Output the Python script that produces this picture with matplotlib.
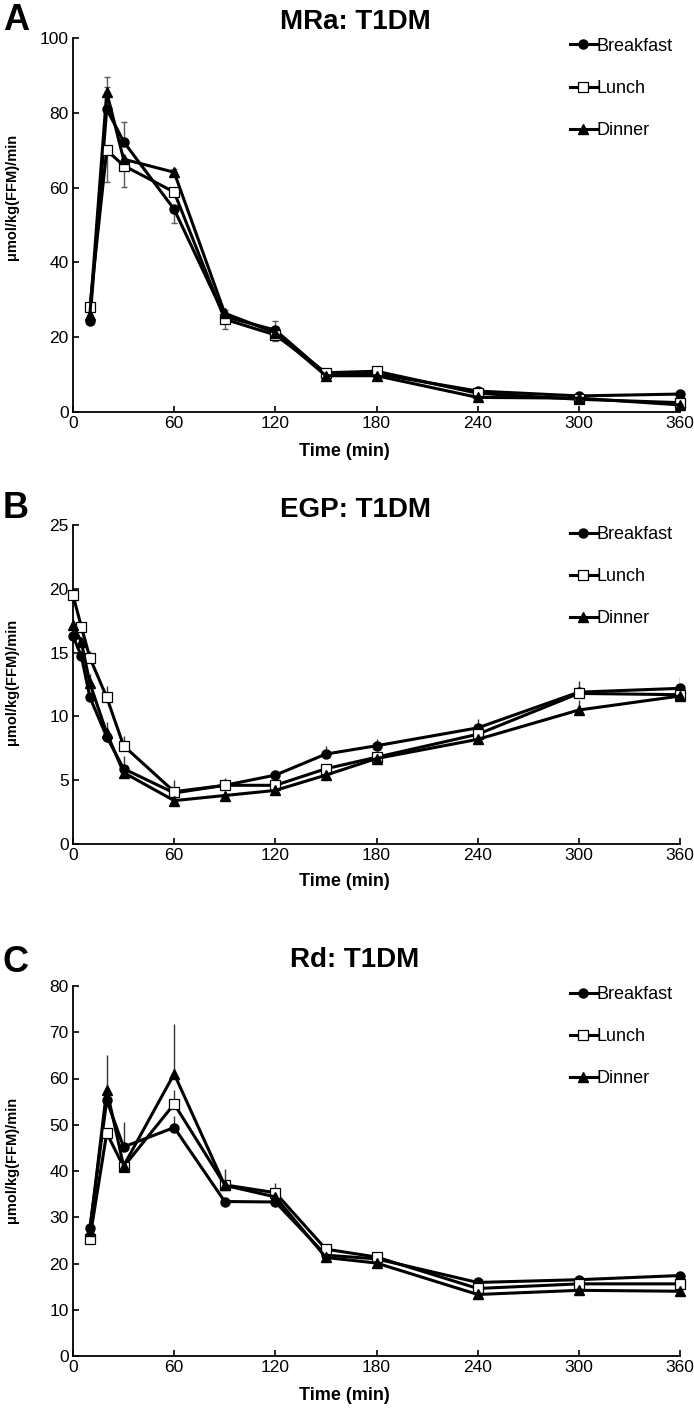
import numpy as np
import matplotlib
matplotlib.use("Agg")
import matplotlib.pyplot as plt

# ---- data ----
series_names = ["Breakfast", "Lunch", "Dinner"]

# Panel A: MRa
t_a = [10, 20, 30, 60, 90, 120, 150, 180, 240, 300, 360]
mra_breakfast = [24.2, 81.0, 72.3, 54.2, 25.5, 21.9, 10.2, 10.2, 5.6, 4.3, 4.8]
mra_lunch = [28.2, 70.0, 65.9, 58.8, 24.8, 20.6, 10.5, 10.9, 5.0, 3.4, 2.5]
mra_dinner = [26.0, 85.5, 67.6, 64.1, 26.4, 21.2, 9.7, 9.7, 3.9, 3.7, 1.9]
mra_breakfast_up = [0, 5.8, 5.2, 0, 0, 2.5, 0, 0, 0, 0, 0]
mra_breakfast_dn = [0, 0, 0, 3.7, 0, 0, 0, 0, 0, 0, 0]
mra_lunch_up = [0, 0, 0, 0, 0, 0, 0, 0, 0, 0, 0]
mra_lunch_dn = [0, 8.6, 5.7, 0, 2.6, 1.5, 0, 0, 0, 0, 0]
mra_dinner_up = [0, 4.1, 0, 1.0, 1.0, 0, 0, 0, 0, 0, 0]
mra_dinner_dn = [0, 0, 0, 0, 0, 0, 0, 0, 0, 0, 0]

# Panel B: EGP
t_b = [0, 5, 10, 20, 30, 60, 90, 120, 150, 180, 240, 300, 360]
egp_breakfast = [16.3, 14.7, 11.5, 8.4, 5.9, 4.0, 4.6, 5.4, 7.05, 7.7, 9.1, 11.9, 12.2]
egp_lunch = [19.5, 17.0, 14.6, 11.5, 7.7, 4.1, 4.6, 4.6, 5.9, 6.8, 8.6, 11.8, 11.7]
egp_dinner = [17.2, 15.8, 12.6, 8.7, 5.6, 3.4, 3.8, 4.2, 5.4, 6.7, 8.2, 10.5, 11.6]
egp_breakfast_up = [0, 0, 0, 1.2, 0, 0, 0, 0.3, 0.6, 0.5, 0.7, 0, 0.9]
egp_lunch_up = [0, 0.4, 0.5, 0.9, 0.8, 0.9, 0.6, 0, 0, 0.3, 0, 1.0, 0]
egp_dinner_up = [0, 0, 0.7, 0, 1.3, 0, 0, 0, 0, 0, 0, 0.8, 0]

# Panel C: Rd
t_c = [10, 20, 30, 60, 90, 120, 150, 180, 240, 300, 360]
rd_breakfast = [27.7, 55.3, 45.2, 49.4, 33.4, 33.3, 21.8, 21.0, 15.9, 16.5, 17.4]
rd_lunch = [25.4, 48.2, 40.9, 54.5, 37.0, 35.3, 23.1, 21.4, 14.6, 15.6, 15.6]
rd_dinner = [27.0, 57.6, 41.1, 61.0, 36.9, 34.4, 21.3, 20.1, 13.3, 14.2, 14.0]
rd_breakfast_up = [0, 0, 5.4, 2.4, 0, 0, 0, 0, 0, 0, 0]
rd_lunch_up = [0, 0, 0, 3.1, 0, 2.1, 0, 0.8, 0, 0, 0]
rd_dinner_up = [0, 7.4, 0, 10.8, 3.5, 0, 0, 0, 0, 0, 0]

plt.rcParams['font.family'] = ['Liberation Sans', 'DejaVu Sans']

W, H = 694, 1425
fig = plt.figure(figsize=(W / 100, H / 100), dpi=100)

styles = [
    dict(marker='o', mfc='black', mec='black', ms=6.5),
    dict(marker='s', mfc='white', mec='black', ms=7, mew=0.9),
    dict(marker='^', mfc='black', mec='black', ms=7),
]


def make_axes(top, bottom, left=73, right=680):
    return fig.add_axes([left / W, 1 - bottom / H, (right - left) / W, (bottom - top) / H])


def style_axes(ax, ymax, ystep):
    ax.set_xlim(0, 360)
    ax.set_ylim(0, ymax)
    ax.set_xticks(np.arange(0, 361, 60))
    ax.set_yticks(np.arange(0, ymax + 0.1, ystep))
    for s in ['top', 'right']:
        ax.spines[s].set_visible(False)
    for s in ['left', 'bottom']:
        ax.spines[s].set_linewidth(1.3)
    ax.tick_params(direction='in', length=4, width=1.2, labelsize=12.5, pad=3)
    ax.patch.set_alpha(0)


def panel(ax, t, ys, ups, dns, capsize, ecolor):
    for y, up, dn in zip(ys, ups, dns):
        ax.errorbar(t, y, yerr=[dn, up], fmt='none', ecolor=ecolor, elinewidth=1.0,
                    capsize=capsize, capthick=1.0, zorder=1)
    for y, st, name in zip(ys, styles, series_names):
        ax.plot(t, y, color='black', lw=2.2, label=name, zorder=3, clip_on=False, **st)
    ax.legend(loc='upper right', frameon=False, fontsize=13, handlelength=1.5,
              handletextpad=0.0, labelspacing=1.4, borderaxespad=0.0,
              bbox_to_anchor=(1.0, 1.02))


def labels(letter, title, top_y, title_y, ylab_y, xlab_y):
    fig.text(16 / W, 1 - top_y / H, letter, fontsize=26, fontweight='bold',
             ha='center', va='center')
    fig.text(355 / W, 1 - title_y / H, title, fontsize=20, fontweight='bold',
             ha='center', va='center')
    fig.text(12 / W, 1 - ylab_y / H, 'μmol/kg(FFM)/min', fontsize=10.5, fontweight='bold',
             rotation=90, ha='center', va='center')
    fig.text(344 / W, 1 - xlab_y / H, 'Time (min)', fontsize=13, fontweight='bold',
             ha='center', va='center')


zeros_b = [0] * len(t_b)
zeros_c = [0] * len(t_c)

# Panel A
ax1 = make_axes(38, 412)
style_axes(ax1, 100, 20)
panel(ax1, t_a, [mra_breakfast, mra_lunch, mra_dinner],
      [mra_breakfast_up, mra_lunch_up, mra_dinner_up],
      [mra_breakfast_dn, mra_lunch_dn, mra_dinner_dn], 2.5, '0.35')
labels('A', 'MRa: T1DM', 20, 22, 197, 452)

# Panel B
ax2 = make_axes(525, 844)
style_axes(ax2, 25, 5)
panel(ax2, t_b, [egp_breakfast, egp_lunch, egp_dinner],
      [egp_breakfast_up, egp_lunch_up, egp_dinner_up],
      [zeros_b, zeros_b, zeros_b], 0, '0.2')
labels('B', 'EGP: T1DM', 508, 510, 682, 882)

# Panel C
ax3 = make_axes(986, 1356)
style_axes(ax3, 80, 10)
panel(ax3, t_c, [rd_breakfast, rd_lunch, rd_dinner],
      [rd_breakfast_up, rd_lunch_up, rd_dinner_up],
      [zeros_c, zeros_c, zeros_c], 0, '0.2')
labels('C', 'Rd: T1DM', 963, 960, 1160, 1395)

fig.savefig('out.png', dpi=100)
